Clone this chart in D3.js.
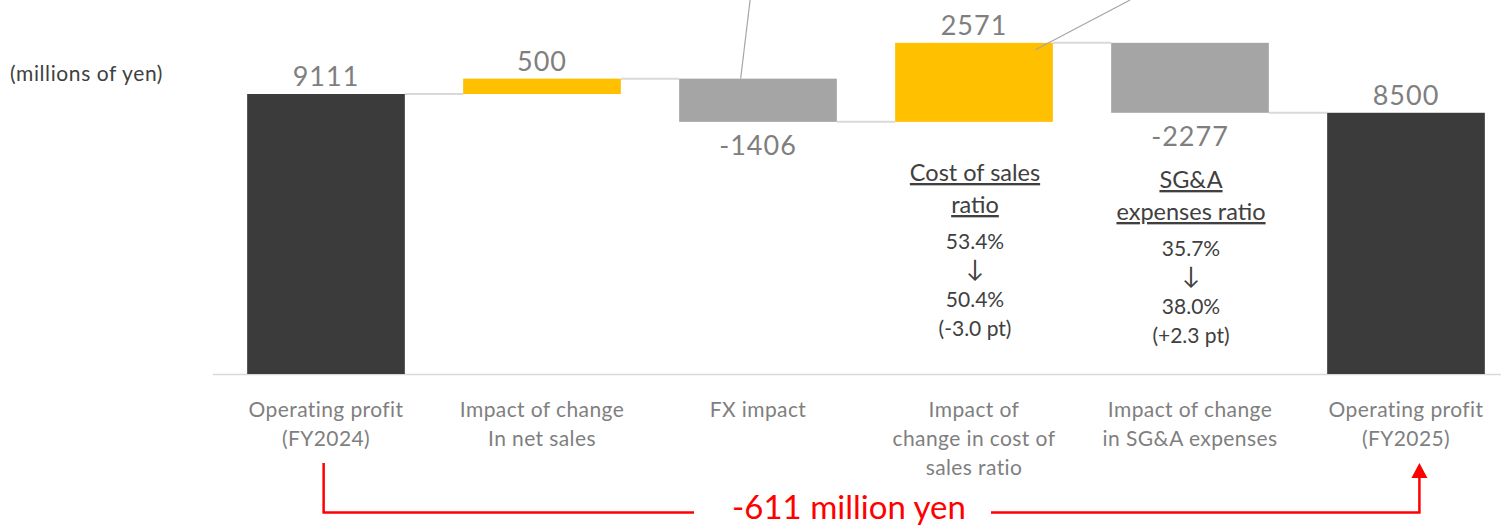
<!DOCTYPE html>
<html>
<head>
<meta charset="utf-8">
<script src="https://cdn.jsdelivr.net/npm/d3@7"></script>
<style>
  html, body { margin: 0; padding: 0; background: #fff; }
  svg { display: block; font-family: Lato, "Open Sans", sans-serif; }
</style>
</head>
<body>
<svg id="chart" width="1501" height="526"></svg>
<script>
// ---------- data ----------
const categories = [
  ["Operating profit", "(FY2024)"],
  ["Impact of change", "In net sales"],
  ["FX impact"],
  ["Impact of", "change in cost of", "sales ratio"],
  ["Impact of change", "in SG&A expenses"],
  ["Operating profit", "(FY2025)"]
];
const values = [9111, 500, -1406, 2571, -2277, 8500];
const kinds = ["total", "delta", "delta", "delta", "delta", "total"];
const unitLabel = "(millions of yen)";
const costNote = { title: ["Cost of sales", "ratio"], lines: ["53.4%", "↓", "50.4%", "(-3.0 pt)"] };
const sgaNote = { title: ["SG&A", "expenses ratio"], lines: ["35.7%", "↓", "38.0%", "(+2.3 pt)"] };
const diffLabel = "-611 million yen";

// ---------- layout ----------
const svg = d3.select("#chart");
const colors = { total: "#3b3b3b", up: "#ffc000", down: "#a5a5a5" };

const x = d3.scaleBand().domain(d3.range(values.length)).range([218, 1514]).paddingInner(0.27).paddingOuter(0.135);
const y = d3.scaleLinear().domain([0, 9111]).range([374, 94]);

// waterfall computation
let run = 0;
const bars = values.map((v, i) => {
  let start, end;
  if (kinds[i] === "total") { start = 0; end = v; run = v; }
  else { start = run; end = run + v; run = end; }
  return { i, v, start, end, lo: Math.min(start, end), hi: Math.max(start, end),
           color: kinds[i] === "total" ? colors.total : (v >= 0 ? colors.up : colors.down) };
});

// axis baseline
svg.append("line")
  .attr("x1", 213).attr("x2", 1501)
  .attr("y1", y(0) + 0.5).attr("y2", y(0) + 0.5)
  .attr("stroke", "#d9d9d9").attr("stroke-width", 1.5);

// connectors
for (let i = 0; i < bars.length - 1; i++) {
  const lvl = bars[i].end;
  svg.append("line")
    .attr("x1", x(i) + x.bandwidth()).attr("x2", x(i + 1))
    .attr("y1", y(lvl)).attr("y2", y(lvl))
    .attr("stroke", "#d9d9d9").attr("stroke-width", 2);
}

// bars
svg.selectAll("rect.bar").data(bars).enter().append("rect")
  .attr("class", "bar")
  .attr("x", d => x(d.i)).attr("width", x.bandwidth())
  .attr("y", d => y(d.hi)).attr("height", d => y(d.lo) - y(d.hi))
  .attr("fill", d => d.color);

// leader lines (from data label callouts above the plot)
const leaders = [
  { i: 2, fx: 0.39, dy: 0, tx: 0.45 },
  { i: 3, fx: 0.89, dy: 7, tx: 1.49 }
];
leaders.forEach(l => {
  const b = bars[l.i];
  svg.append("line")
    .attr("x1", x(l.i) + l.fx * x.bandwidth()).attr("y1", y(b.hi) + l.dy)
    .attr("x2", x(l.i) + l.tx * x.bandwidth()).attr("y2", 0)
    .attr("stroke", "#a6a6a6").attr("stroke-width", 1.2);
});

// value labels
svg.selectAll("text.val").data(bars).enter().append("text")
  .attr("class", "val")
  .attr("x", d => x(d.i) + x.bandwidth() / 2)
  .attr("y", d => (d.v >= 0 ? y(d.hi) - 8 : y(d.lo) + 33))
  .attr("text-anchor", "middle")
  .attr("fill", "#7f7f7f")
  .attr("font-size", 27)
  .attr("letter-spacing", 1)
  .text(d => d.v);

// category labels
const cat = svg.selectAll("text.cat").data(categories).enter().append("text")
  .attr("class", "cat")
  .attr("text-anchor", "middle")
  .attr("fill", "#7f7f7f")
  .attr("font-size", 21)
  .attr("letter-spacing", 0.4);
cat.each(function(lines, i) {
  const t = d3.select(this);
  lines.forEach((ln, k) => {
    t.append("tspan").attr("x", x(i) + x.bandwidth() / 2).attr("y", 417 + k * 29).text(ln);
  });
});

// unit label
svg.append("text").attr("x", 10).attr("y", 81)
  .attr("fill", "#404040").attr("font-size", 21).attr("letter-spacing", 0.6).text(unitLabel);

// notes under cost / SG&A bars
function note(n, i, y0) {
  const cx = x(i) + x.bandwidth() / 2 + 1;
  n.title.forEach((ln, k) => {
    svg.append("text").attr("x", cx).attr("y", y0 + k * 32)
      .attr("text-anchor", "middle").attr("fill", "#404040")
      .attr("font-size", 23.5).attr("text-decoration", "underline").text(ln);
  });
  const y1 = y0 + (n.title.length - 1) * 32 + 36;
  const steps = [0, 28, 58, 87];
  n.lines.forEach((ln, k) => {
    svg.append("text").attr("x", cx).attr("y", y1 + steps[k])
      .attr("text-anchor", "middle").attr("fill", "#404040")
      .attr("font-size", k === 1 ? 24 : 21).text(ln);
  });
}
note(costNote, 3, 181);
note(sgaNote, 4, 188);

// red difference bracket
const red = "#ff0000";
const xa = x(0) + x.bandwidth() * 0.485;
const xb = x(5) + x.bandwidth() * 0.585;
const yb = 512.5;
svg.append("path")
  .attr("d", `M${xa},463 V${yb} H694`)
  .attr("fill", "none").attr("stroke", red).attr("stroke-width", 2.5);
svg.append("path")
  .attr("d", `M991,${yb} H${xb} V478`)
  .attr("fill", "none").attr("stroke", red).attr("stroke-width", 2.5);
svg.append("path")
  .attr("d", `M${xb},463 L${xb + 8},478 L${xb - 8},478 Z`)
  .attr("fill", red);
svg.append("text").attr("x", 849).attr("y", 519)
  .attr("text-anchor", "middle").attr("fill", red)
  .attr("font-size", 33).text(diffLabel);
</script>
</body>
</html>
